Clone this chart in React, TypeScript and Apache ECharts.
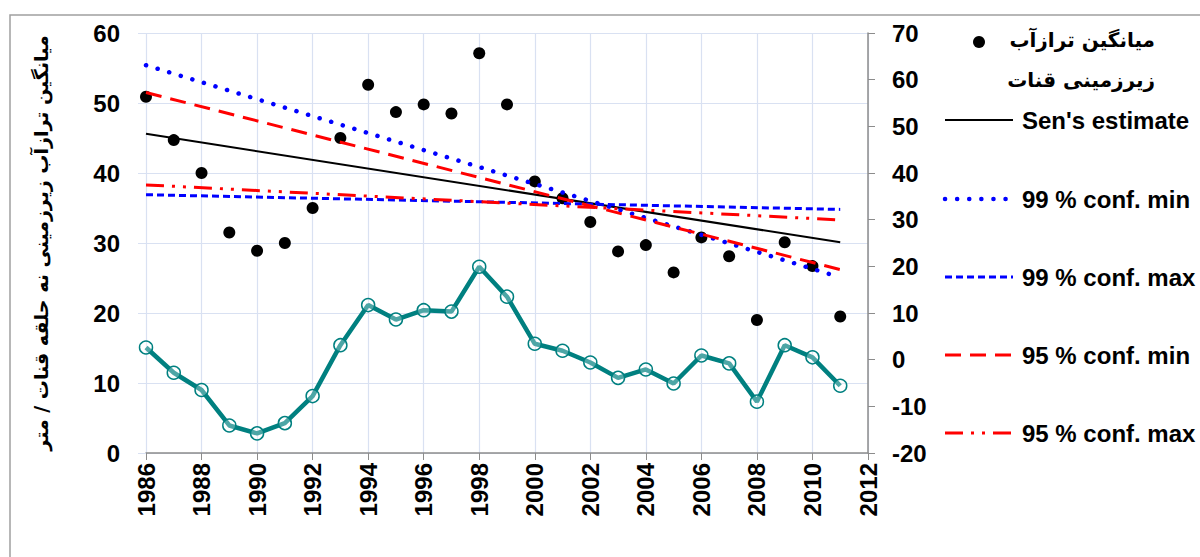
import React, { useEffect, useRef } from "react";
import * as echarts from "echarts";

const years = [1986, 1987, 1988, 1989, 1990, 1991, 1992, 1993, 1994, 1995, 1996, 1997, 1998, 1999, 2000, 2001, 2002, 2003, 2004, 2005, 2006, 2007, 2008, 2009, 2010, 2011];
const meanLevel = [50.9, 44.7, 40.0, 31.5, 28.9, 30.0, 35.0, 45.0, 52.6, 48.7, 49.8, 48.5, 57.1, 49.8, 38.8, 36.4, 33.0, 28.8, 29.7, 25.8, 30.8, 28.1, 19.0, 30.1, 26.7, 19.5];
const secondSeries = [2.6, -2.8, -6.5, -14.1, -15.8, -13.6, -7.8, 3.1, 11.7, 8.6, 10.6, 10.3, 19.9, 13.5, 3.4, 1.9, -0.6, -3.9, -2.1, -5.1, 0.9, -0.8, -9.0, 3.1, 0.5, -5.6];
const trendYears = [1986, 2011];
const senEstimate = [45.6, 30.1];
const conf99Min = [55.4, 25.1];
const conf99Max = [36.9, 34.8];
const conf95Min = [51.5, 26.2];
const conf95Max = [38.3, 33.3];

const legendPersian1 = "میانگین ترازآب";
const legendPersian2 = "زیرزمینی قنات";
const yTitle = "میانگین ترازآب زیرزمینی نه حلقه قنات / متر";
const legendNames = ["Sen's estimate", "99 % conf. min", "99 % conf. max", "95 % conf. min", "95 % conf. max"];

const LATIN = "'Liberation Sans', Arial, sans-serif";
const FA = "'DejaVu Sans', sans-serif";
const GRID = "#d9e1f2";

const pair = (xs: number[], ys: number[]) => xs.map((x, i) => [x, ys[i]]);

export default function App() {
  const ref = useRef<HTMLDivElement>(null);
  useEffect(() => {
    document.body.style.margin = "0";
    const chart = echarts.init(ref.current!, undefined, { renderer: "svg" });

    const styles = [
      { color: "#000000", width: 2, type: "solid" as any, cap: "butt" },
      { color: "#0000ff", width: 4.5, type: [0.1, 12] as any, cap: "round" },
      { color: "#0000ff", width: 3, type: [7, 4] as any, cap: "butt" },
      { color: "#ff0000", width: 3, type: [16, 9] as any, cap: "butt" },
      { color: "#ff0000", width: 3, type: [18, 8, 3, 8, 3, 8] as any, cap: "butt" },
    ];
    const trendData = [senEstimate, conf99Min, conf99Max, conf95Min, conf95Max];

    const legendYs = [120, 199, 277, 355, 433];
    const legendGraphics: any[] = [];
    legendYs.forEach((y, i) => {
      const s = styles[i];
      legendGraphics.push({
        type: "line",
        shape: { x1: 945, y1: y, x2: 1013, y2: y },
        style: {
          stroke: s.color,
          lineWidth: s.width,
          lineDash: Array.isArray(s.type) ? s.type : null,
          lineCap: s.cap,
        },
      });
      legendGraphics.push({
        type: "text",
        x: 1022,
        y: y,
        style: {
          text: legendNames[i],
          font: `bold 24px ${LATIN}`,
          fill: "#000",
          textAlign: "left",
          textVerticalAlign: "middle",
        },
      });
    });

    chart.setOption({
      animation: false,
      backgroundColor: "#ffffff",
      grid: { left: 146, top: 33, width: 722, height: 420 },
      xAxis: {
        type: "value",
        min: 1986,
        max: 2012,
        interval: 2,
        axisLine: { show: true, lineStyle: { color: "#8c8c8c", width: 1.5 } },
        axisTick: { show: true, length: 7, lineStyle: { color: "#8c8c8c" } },
        splitLine: { show: true, lineStyle: { color: GRID, width: 1.2 } },
        axisLabel: {
          rotate: 90,
          margin: 10,
          formatter: (v: number) => String(v),
          fontFamily: LATIN,
          fontWeight: "bold",
          fontSize: 24,
          color: "#000",
        },
      },
      yAxis: [
        {
          type: "value",
          min: 0,
          max: 60,
          interval: 10,
          name: yTitle,
          nameLocation: "middle",
          nameRotate: 90,
          nameGap: 96,
          nameTextStyle: { fontFamily: FA, fontWeight: "bold", fontSize: 19, color: "#000" },
          axisLine: { show: false },
          axisTick: { show: true, length: 8, lineStyle: { color: GRID } },
          splitLine: { show: true, lineStyle: { color: GRID, width: 1.2 } },
          axisLabel: { margin: 26, fontFamily: LATIN, fontWeight: "bold", fontSize: 24, color: "#000" },
        },
        {
          type: "value",
          min: -20,
          max: 70,
          interval: 10,
          position: "right",
          axisLine: { show: true, lineStyle: { color: "#8c8c8c", width: 1.5 } },
          axisTick: { show: true, length: 7, lineStyle: { color: "#8c8c8c" } },
          splitLine: { show: false },
          axisLabel: { margin: 24, fontFamily: LATIN, fontWeight: "bold", fontSize: 24, color: "#000" },
        },
      ],
      series: [
        {
          type: "line",
          yAxisIndex: 1,
          data: pair(years, secondSeries),
          lineStyle: { color: "#008080", width: 4.5 },
          symbol: "circle",
          symbolSize: 13,
          itemStyle: { color: "rgba(255,255,255,0.3)", borderColor: "#008080", borderWidth: 1.5 },
          z: 2,
        },
        {
          type: "scatter",
          yAxisIndex: 0,
          data: pair(years, meanLevel),
          symbol: "circle",
          symbolSize: 12,
          itemStyle: { color: "#000000", opacity: 1 },
          z: 3,
        },
        ...trendData.map((d, i) => ({
          type: "line",
          yAxisIndex: 0,
          data: pair(trendYears, d),
          showSymbol: false,
          symbol: "none",
          lineStyle: { color: styles[i].color, width: styles[i].width, type: styles[i].type, cap: styles[i].cap },
          z: 4,
        })),
      ],
      graphic: [
        {
          type: "rect",
          shape: { x: 10, y: 15, width: 1250, height: 600 },
          style: { fill: "none", stroke: "#a0a0a0", lineWidth: 1.5 },
          silent: true,
          z: -1,
        },
        {
          type: "circle",
          shape: { cx: 979, cy: 42, r: 6 },
          style: { fill: "#000" },
        },
        {
          type: "text",
          x: 1155,
          y: 40,
          style: {
            text: legendPersian1,
            font: `bold 20px ${FA}`,
            fill: "#000",
            textAlign: "right",
            textVerticalAlign: "middle",
          },
        },
        {
          type: "text",
          x: 1155,
          y: 80,
          style: {
            text: legendPersian2,
            font: `bold 20px ${FA}`,
            fill: "#000",
            textAlign: "right",
            textVerticalAlign: "middle",
          },
        },
        ...legendGraphics,
      ],
    });
    return () => chart.dispose();
  }, []);
  return <div ref={ref} style={{ width: 1200, height: 557 }} />;
}
